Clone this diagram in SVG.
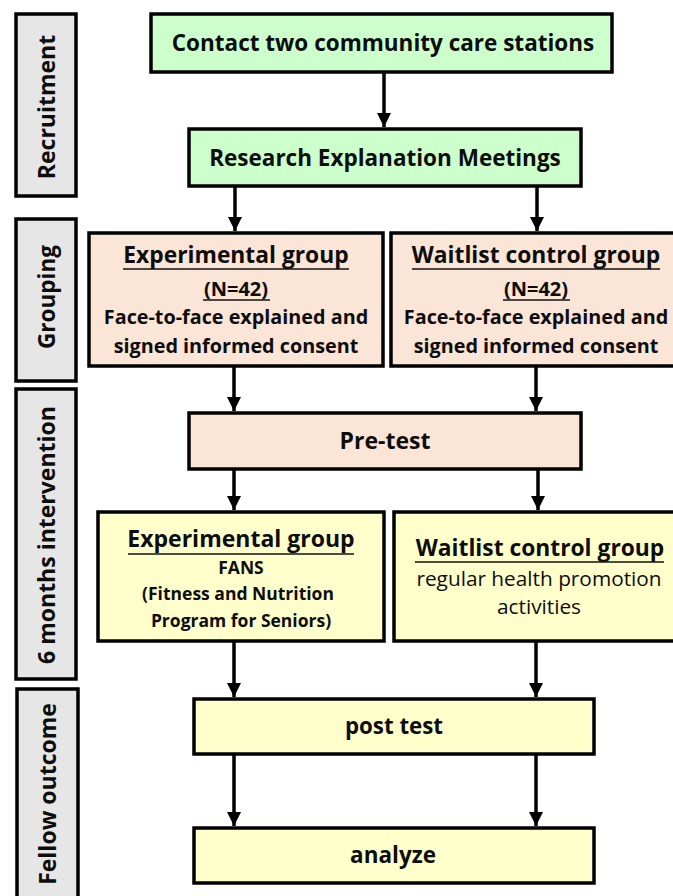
<svg xmlns="http://www.w3.org/2000/svg" width="673" height="896" viewBox="0 0 673 896">
<style>
.box{stroke:#000;stroke-width:3.5}
.side{fill:#e7e6e6}
.green{fill:#ccffcc}
.pink{fill:#fbe5d6}
.yellow{fill:#ffffcc}
text{font-family:"Open Sans","Noto Sans",sans-serif;fill:#0d0d0d;text-anchor:middle}
.b{font-weight:bold}
.conn line{stroke:#000;stroke-width:3.5}
.ul{stroke:#111;stroke-width:1.6}
</style>
<defs>
<marker id="ah" viewBox="0 0 10 10" refX="10" refY="5" markerWidth="4" markerHeight="4" markerUnits="strokeWidth" orient="auto">
<path d="M0,0 L10,5 L0,10 z" fill="#000"/>
</marker>
</defs>
<rect width="673" height="896" fill="#fff"/>

<g id="side-recruitment">
<rect class="box side" x="16" y="14" width="60" height="182"/>
<text class="b" font-size="23" transform="translate(46 107) rotate(-90)" dominant-baseline="central">Recruitment</text>
</g>
<g id="side-grouping">
<rect class="box side" x="16" y="219" width="60" height="162"/>
<text class="b" font-size="22.5" transform="translate(46 297) rotate(-90)" dominant-baseline="central">Grouping</text>
</g>
<g id="side-intervention">
<rect class="box side" x="16" y="389" width="60" height="290"/>
<text class="b" font-size="23" transform="translate(46 535) rotate(-90)" dominant-baseline="central">6 months intervention</text>
</g>
<g id="side-outcome">
<rect class="box side" x="17" y="689" width="61" height="215"/>
<text class="b" font-size="23" transform="translate(47 794) rotate(-90)" dominant-baseline="central">Fellow outcome</text>
</g>

<g id="contact">
<rect class="box green" x="151" y="14" width="461" height="58"/>
<text class="b" font-size="22.5" x="383" y="51">Contact two community care stations</text>
</g>
<g id="research">
<rect class="box green" x="189" y="129" width="392" height="57"/>
<text class="b" font-size="22.5" x="385" y="166">Research Explanation Meetings</text>
</g>

<g id="exp-group">
<rect class="box pink" x="89" y="233" width="294" height="133"/>
<text class="b" font-size="22.8" x="236" y="263">Experimental group</text>
<line class="ul" x1="123" y1="269" x2="349" y2="269"/>
<text class="b" font-size="20" x="236" y="296">(N=42)</text>
<line class="ul" x1="203" y1="300" x2="270" y2="300"/>
<text class="b" font-size="19.8" x="236" y="324">Face-to-face explained and</text>
<text class="b" font-size="19.8" x="236" y="353">signed informed consent</text>
</g>
<g id="wait-group">
<rect class="box pink" x="391" y="233" width="286" height="133"/>
<text class="b" font-size="22.8" x="536" y="263">Waitlist control group</text>
<line class="ul" x1="412" y1="269" x2="660" y2="269"/>
<text class="b" font-size="20" x="536" y="296">(N=42)</text>
<line class="ul" x1="503" y1="300" x2="570" y2="300"/>
<text class="b" font-size="19.8" x="536" y="324">Face-to-face explained and</text>
<text class="b" font-size="19.8" x="536" y="353">signed informed consent</text>
</g>

<g id="pretest">
<rect class="box pink" x="189" y="413" width="392" height="56"/>
<text class="b" font-size="23" x="385" y="449">Pre-test</text>
</g>

<g id="exp-intervention">
<rect class="box yellow" x="98" y="512" width="286" height="129"/>
<text class="b" font-size="23" x="241" y="547">Experimental group</text>
<line class="ul" x1="128" y1="554" x2="354" y2="554"/>
<text class="b" font-size="17.5" x="241" y="574">FANS</text>
<text class="b" font-size="17.5" x="238" y="600">(Fitness and Nutrition</text>
<text class="b" font-size="17.5" x="241" y="627">Program for Seniors)</text>
</g>
<g id="wait-intervention">
<rect class="box yellow" x="394" y="512" width="283" height="129"/>
<text class="b" font-size="22.8" x="540" y="556">Waitlist control group</text>
<line class="ul" x1="415" y1="562" x2="664" y2="562"/>
<text font-size="20.8" x="539" y="586">regular health promotion</text>
<text font-size="20.8" x="539" y="614">activities</text>
</g>

<g id="posttest">
<rect class="box yellow" x="194" y="699" width="400" height="55"/>
<text class="b" font-size="22.3" x="394" y="734">post test</text>
</g>
<g id="analyze">
<rect class="box yellow" x="194" y="828" width="400" height="55"/>
<text class="b" font-size="22.5" x="393" y="863">analyze</text>
</g>

<g id="connectors" class="conn">
<line x1="384" y1="72" x2="384" y2="127" marker-end="url(#ah)"/>
<line x1="235" y1="187" x2="235" y2="231" marker-end="url(#ah)"/>
<line x1="537" y1="187" x2="537" y2="231" marker-end="url(#ah)"/>
<line x1="234" y1="367" x2="234" y2="411" marker-end="url(#ah)"/>
<line x1="536" y1="367" x2="536" y2="411" marker-end="url(#ah)"/>
<line x1="234" y1="469" x2="234" y2="510" marker-end="url(#ah)"/>
<line x1="538" y1="469" x2="538" y2="510" marker-end="url(#ah)"/>
<line x1="234" y1="642" x2="234" y2="697" marker-end="url(#ah)"/>
<line x1="536" y1="642" x2="536" y2="697" marker-end="url(#ah)"/>
<line x1="234" y1="755" x2="234" y2="826" marker-end="url(#ah)"/>
<line x1="536" y1="755" x2="536" y2="826" marker-end="url(#ah)"/>
</g>
</svg>
